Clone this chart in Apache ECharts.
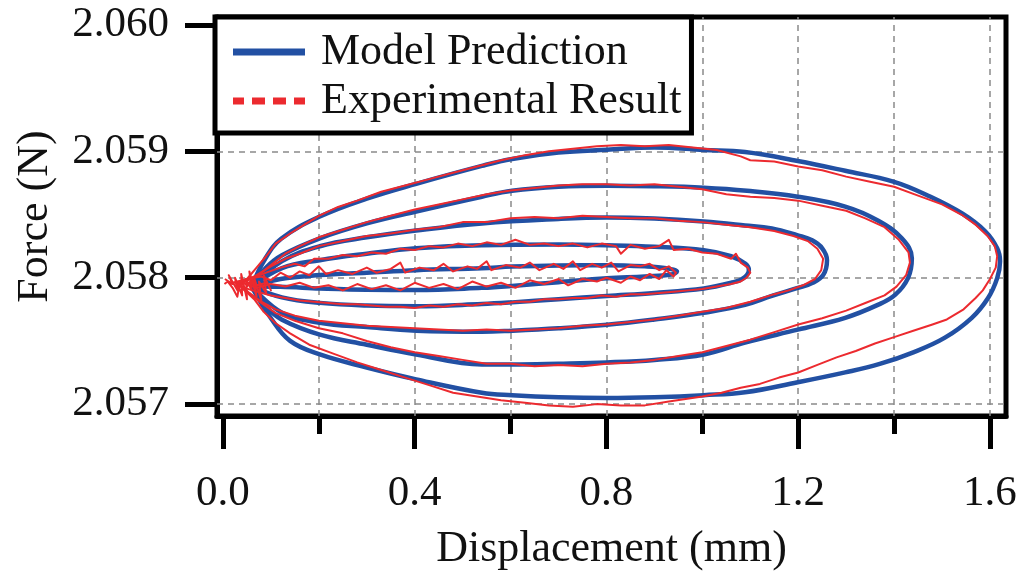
<!DOCTYPE html>
<html>
<head>
<meta charset="utf-8">
<title>Force vs Displacement</title>
<script src="https://cdn.jsdelivr.net/npm/echarts@6/dist/echarts.min.js"></script>
<style>
  html, body { margin: 0; padding: 0; background: #fff; }
  #chart { width: 1024px; height: 576px; }
</style>
</head>
<body>
<div id="chart"></div>
<script>
// Hysteresis loops: displacement (mm) vs force (N)

const xMajorTicks = [0.0, 0.4, 0.8, 1.2, 1.6];
const xMinorTicks = [0.2, 0.6, 1.0, 1.4];
const xGridValues = [0.2, 0.4, 0.6, 0.8, 1.0, 1.2, 1.4, 1.6];
const yTicks = [2.057, 2.058, 2.059, 2.060];
const yGridValues = [2.057, 2.058, 2.059];

// Model prediction, one closed loop per amplitude
const modelLoop1 = [[0.06,2.05793],[0.12,2.05799],[0.202,2.058021],[0.30,2.05804],[0.403,2.05806],[0.54,2.058076],[0.603,2.058088],[0.70,2.058097],[0.801,2.058099],[0.88,2.05809],[0.925,2.058075],[0.947,2.05805],[0.935,2.058025],[0.88,2.05801],[0.801,2.057995],[0.70,2.057965],[0.603,2.057935],[0.54,2.05792],[0.403,2.057903],[0.30,2.057905],[0.202,2.057915],[0.12,2.057928],[0.06,2.05793]];
const modelLoop2 = [[0.06,2.05793],[0.123,2.058076],[0.202,2.058139],[0.30,2.05819],[0.403,2.058233],[0.54,2.058257],[0.70,2.058262],[0.801,2.058257],[0.90,2.058245],[1.003,2.058217],[1.06,2.05817],[1.09,2.05811],[1.097,2.05806],[1.085,2.057995],[1.06,2.05796],[1.003,2.057915],[0.90,2.05788],[0.801,2.057856],[0.70,2.05783],[0.603,2.057805],[0.54,2.057792],[0.403,2.057775],[0.30,2.05778],[0.202,2.057801],[0.123,2.057845],[0.06,2.05793]];
const modelLoop3 = [[0.06,2.05793],[0.123,2.058131],[0.202,2.058249],[0.30,2.05832],[0.403,2.058374],[0.54,2.05843],[0.70,2.058465],[0.801,2.058476],[0.90,2.058468],[1.003,2.058445],[1.089,2.058414],[1.145,2.05839],[1.199,2.058335],[1.229,2.058296],[1.25,2.058233],[1.26,2.058139],[1.252,2.058021],[1.229,2.057958],[1.199,2.057919],[1.145,2.057856],[1.089,2.057785],[1.003,2.057723],[0.90,2.05767],[0.801,2.057628],[0.70,2.0576],[0.603,2.057581],[0.54,2.057573],[0.403,2.057581],[0.30,2.05761],[0.202,2.057644],[0.123,2.057723],[0.06,2.05793]];
const modelLoop4 = [[0.06,2.05793],[0.09,2.05808],[0.123,2.058178],[0.202,2.058312],[0.30,2.05843],[0.403,2.058524],[0.54,2.058641],[0.603,2.058688],[0.70,2.05872],[0.801,2.058728],[0.90,2.058724],[1.003,2.058712],[1.093,2.058688],[1.199,2.058641],[1.298,2.058563],[1.366,2.058453],[1.416,2.058312],[1.437,2.058154],[1.429,2.057997],[1.402,2.057864],[1.366,2.057785],[1.298,2.057683],[1.199,2.057589],[1.089,2.057487],[1.003,2.057393],[0.90,2.05735],[0.801,2.05733],[0.70,2.05732],[0.603,2.057314],[0.54,2.057314],[0.403,2.057393],[0.30,2.05747],[0.202,2.05755],[0.123,2.057668],[0.09,2.05777],[0.06,2.05793]];
const modelLoop5 = [[0.06,2.05793],[0.088,2.05815],[0.122,2.05831],[0.202,2.058484],[0.30,2.058626],[0.403,2.058743],[0.54,2.058885],[0.603,2.05894],[0.70,2.05899],[0.801,2.059013],[0.90,2.05903],[1.003,2.059011],[1.089,2.058995],[1.199,2.058924],[1.298,2.058846],[1.40,2.058759],[1.471,2.058649],[1.542,2.058508],[1.59,2.058367],[1.615,2.058233],[1.621,2.058131],[1.615,2.057997],[1.596,2.05784],[1.562,2.057683],[1.506,2.057526],[1.44,2.05741],[1.37,2.057318],[1.298,2.057251],[1.199,2.057173],[1.089,2.057094],[1.003,2.057071],[0.90,2.057055],[0.801,2.057049],[0.70,2.057055],[0.603,2.057071],[0.54,2.05709],[0.403,2.057196],[0.30,2.05729],[0.202,2.057393],[0.14,2.0575],[0.10,2.05768],[0.06,2.05793]];

// Measured response, same five amplitudes
const testTip = [[0.004,2.05799],[0.02,2.05795],[0.012,2.05802],[0.03,2.0579],[0.025,2.058],[0.04,2.05786],[0.038,2.05803],[0.05,2.05783],[0.048,2.05799],[0.06,2.0579],[0.055,2.05805],[0.07,2.05785],[0.065,2.058],[0.08,2.05782],[0.075,2.05797],[0.09,2.05788],[0.085,2.05802],[0.10,2.0579],[0.092,2.05796],[0.07,2.05794],[0.06,2.05799],[0.045,2.0579],[0.035,2.05796],[0.03,2.05785],[0.02,2.05792],[0.01,2.05797],[0.003,2.05795]];
const testLoop1 = [[0.02,2.05796],[0.05,2.05799],[0.08,2.05801],[0.10,2.05798],[0.12,2.05804],[0.14,2.058],[0.16,2.05805],[0.18,2.05802],[0.20,2.05809],[0.215,2.05803],[0.24,2.05806],[0.27,2.05803],[0.30,2.05808],[0.32,2.05804],[0.35,2.05807],[0.37,2.05812],[0.38,2.05804],[0.41,2.05808],[0.44,2.05806],[0.46,2.05811],[0.48,2.05805],[0.51,2.05809],[0.53,2.05807],[0.55,2.05813],[0.56,2.05806],[0.59,2.0581],[0.62,2.05808],[0.64,2.05812],[0.66,2.05806],[0.69,2.05811],[0.71,2.05807],[0.73,2.05813],[0.745,2.05806],[0.77,2.05811],[0.79,2.05808],[0.81,2.05812],[0.825,2.05805],[0.85,2.0581],[0.87,2.05809],[0.89,2.05811],[0.91,2.05806],[0.93,2.05809],[0.945,2.05804],[0.94,2.05801],[0.925,2.05806],[0.91,2.05799],[0.89,2.05803],[0.87,2.05798],[0.85,2.05801],[0.83,2.05796],[0.80,2.058],[0.78,2.05797],[0.75,2.05799],[0.72,2.05794],[0.70,2.05799],[0.67,2.05795],[0.64,2.05798],[0.61,2.05792],[0.58,2.05796],[0.55,2.05793],[0.52,2.05797],[0.49,2.05791],[0.46,2.05795],[0.43,2.05792],[0.40,2.05796],[0.37,2.0579],[0.34,2.05794],[0.31,2.05791],[0.28,2.05795],[0.25,2.0579],[0.22,2.05794],[0.19,2.05792],[0.16,2.05796],[0.13,2.05793],[0.10,2.05795],[0.07,2.05792],[0.04,2.05796],[0.02,2.05796]];
const testLoop2 = [[0.03,2.05795],[0.06,2.058],[0.09,2.05804],[0.12,2.05808],[0.15,2.05811],[0.17,2.05809],[0.19,2.05815],[0.22,2.05815],[0.25,2.05818],[0.28,2.05817],[0.31,2.0582],[0.34,2.05819],[0.37,2.05823],[0.40,2.05822],[0.43,2.05825],[0.46,2.05824],[0.49,2.05827],[0.52,2.05825],[0.55,2.05828],[0.58,2.05826],[0.61,2.0583],[0.64,2.05826],[0.67,2.05827],[0.70,2.05825],[0.73,2.05827],[0.76,2.05824],[0.79,2.05827],[0.82,2.05825],[0.83,2.05819],[0.85,2.05826],[0.88,2.05823],[0.91,2.05825],[0.93,2.0583],[0.94,2.05822],[0.97,2.05823],[1.00,2.0582],[1.03,2.05819],[1.06,2.05815],[1.07,2.05819],[1.08,2.05812],[1.095,2.05808],[1.10,2.05804],[1.092,2.058],[1.08,2.05797],[1.06,2.05795],[1.03,2.05793],[1.00,2.05791],[0.97,2.0579],[0.94,2.05789],[0.91,2.05788],[0.88,2.05787],[0.85,2.05787],[0.82,2.05785],[0.79,2.05786],[0.76,2.05784],[0.73,2.05784],[0.70,2.05783],[0.67,2.05783],[0.64,2.05781],[0.61,2.05781],[0.58,2.05779],[0.55,2.0578],[0.52,2.05778],[0.49,2.05779],[0.46,2.05777],[0.43,2.05778],[0.40,2.05776],[0.37,2.05777],[0.34,2.05777],[0.31,2.05778],[0.28,2.05779],[0.25,2.05779],[0.22,2.0578],[0.19,2.05781],[0.16,2.05782],[0.13,2.05784],[0.10,2.05786],[0.07,2.05789],[0.045,2.05792],[0.03,2.05795]];
const testLoop3 = [[0.04,2.05796],[0.07,2.05802],[0.10,2.05809],[0.13,2.05815],[0.16,2.05819],[0.20,2.05825],[0.25,2.05829],[0.30,2.05833],[0.35,2.05835],[0.40,2.05838],[0.45,2.0584],[0.50,2.05844],[0.55,2.05844],[0.60,2.05847],[0.65,2.05848],[0.70,2.05847],[0.75,2.05849],[0.80,2.05848],[0.85,2.05847],[0.90,2.05847],[0.95,2.05845],[1.00,2.05844],[1.05,2.05842],[1.10,2.0584],[1.15,2.05837],[1.19,2.05833],[1.22,2.05829],[1.24,2.05823],[1.252,2.05815],[1.248,2.05806],[1.235,2.05799],[1.21,2.05794],[1.18,2.0579],[1.15,2.05787],[1.10,2.05781],[1.05,2.05776],[1.00,2.05773],[0.95,2.0577],[0.90,2.05767],[0.85,2.05765],[0.80,2.05763],[0.75,2.05762],[0.70,2.0576],[0.65,2.05759],[0.60,2.05758],[0.55,2.05759],[0.50,2.05758],[0.45,2.05759],[0.40,2.0576],[0.35,2.05761],[0.30,2.05762],[0.25,2.05764],[0.20,2.05766],[0.15,2.0577],[0.11,2.05775],[0.08,2.05781],[0.055,2.05788],[0.04,2.05793]];
const testLoop4 = [[0.04,2.05796],[0.07,2.05801],[0.10,2.0581],[0.13,2.05819],[0.16,2.05825],[0.20,2.05832],[0.25,2.05838],[0.30,2.05844],[0.35,2.05849],[0.40,2.05854],[0.45,2.05858],[0.50,2.05862],[0.55,2.05866],[0.60,2.05869],[0.65,2.05871],[0.70,2.05873],[0.75,2.05874],[0.80,2.05874],[0.85,2.05873],[0.90,2.05874],[0.95,2.05872],[1.00,2.0587],[1.05,2.05866],[1.10,2.05864],[1.15,2.05863],[1.20,2.05861],[1.25,2.05857],[1.30,2.05853],[1.34,2.05847],[1.38,2.0584],[1.41,2.0583],[1.43,2.0582],[1.433,2.05812],[1.425,2.05802],[1.405,2.05793],[1.38,2.05786],[1.34,2.0578],[1.30,2.05774],[1.25,2.05768],[1.20,2.05763],[1.15,2.05757],[1.10,2.05751],[1.05,2.05746],[1.00,2.05741],[0.95,2.05738],[0.90,2.05735],[0.85,2.05733],[0.80,2.05732],[0.75,2.0573],[0.70,2.05731],[0.65,2.0573],[0.60,2.05732],[0.55,2.05732],[0.50,2.05735],[0.45,2.05738],[0.40,2.05741],[0.35,2.05745],[0.30,2.0575],[0.25,2.05756],[0.20,2.0576],[0.15,2.05766],[0.11,2.05772],[0.08,2.0578],[0.055,2.05787],[0.04,2.05793]];
const testLoop5 = [[0.03,2.05796],[0.05,2.05799],[0.07,2.05808],[0.09,2.05817],[0.11,2.05827],[0.14,2.05835],[0.17,2.05842],[0.20,2.05849],[0.24,2.05856],[0.28,2.05861],[0.33,2.05868],[0.38,2.05873],[0.43,2.05878],[0.48,2.05883],[0.53,2.05888],[0.58,2.05893],[0.63,2.05897],[0.68,2.059],[0.73,2.05902],[0.78,2.05904],[0.83,2.05905],[0.88,2.05904],[0.93,2.05905],[0.98,2.05903],[1.03,2.05901],[1.08,2.05896],[1.10,2.05893],[1.15,2.05892],[1.20,2.05888],[1.25,2.05885],[1.30,2.0588],[1.35,2.05876],[1.40,2.05872],[1.45,2.05865],[1.50,2.05858],[1.54,2.0585],[1.57,2.05842],[1.595,2.05833],[1.61,2.05825],[1.615,2.05817],[1.612,2.05808],[1.60,2.05799],[1.585,2.0579],[1.57,2.05784],[1.545,2.05775],[1.51,2.05767],[1.48,2.05763],[1.44,2.05758],[1.40,2.05753],[1.36,2.05748],[1.32,2.05742],[1.28,2.05737],[1.24,2.05731],[1.20,2.05725],[1.16,2.05721],[1.12,2.05716],[1.08,2.05713],[1.04,2.05709],[1.00,2.05706],[0.93,2.05702],[0.88,2.05699],[0.83,2.05699],[0.78,2.057],[0.73,2.05698],[0.68,2.05699],[0.63,2.05701],[0.58,2.05703],[0.53,2.05706],[0.48,2.05709],[0.43,2.05715],[0.38,2.05721],[0.33,2.05727],[0.28,2.05733],[0.23,2.0574],[0.18,2.05747],[0.14,2.05756],[0.11,2.05764],[0.085,2.05773],[0.065,2.05783],[0.045,2.0579],[0.03,2.05795]];

const modelLoops = [modelLoop1, modelLoop2, modelLoop3, modelLoop4, modelLoop5];
const testLoops = [testTip, testLoop1, testLoop2, testLoop3, testLoop4, testLoop5];

const MODEL_NAME = 'Model Prediction';
const TEST_NAME = 'Experimental Result';
const BLUE = '#2250a3';
const RED = '#ec2a2f';
const INK = '#111111';
const SERIF = '"Liberation Serif", "DejaVu Serif", serif';

// Axis extents: the frame sits a little outside the labelled range
const X_MIN = -0.0125, X_MAX = 1.6334;
const Y_MIN = 2.056906, Y_MAX = 2.060063;

// Legend swatches: a solid bar and a dashed bar
const SOLID_ICON = 'path://M0,0H72V7H0Z';
const DASH_ICON = 'path://M0,0H11V7H0Z M19,0H32V7H19Z M40,0H53V7H40Z M61,0H72V7H61Z';

const gridLines = {
  silent: true,
  symbol: 'none',
  z: 1,
  animation: false,
  label: { show: false },
  lineStyle: { color: '#8a8a8a', type: [6, 5], width: 1.5 },
  data: xGridValues.map(v => ({ xAxis: v })).concat(
    yGridValues.map(v => [{ coord: [X_MIN, v] }, { coord: [X_MAX, v] }])
  )
};

const series = [];
modelLoops.forEach((loop, i) => {
  const s = {
    type: 'line', name: MODEL_NAME, data: loop,
    symbol: 'none', smooth: 0.4, silent: true, z: 2,
    lineStyle: { color: BLUE, width: 4.5, join: 'round' },
    itemStyle: { color: BLUE }
  };
  if (i === modelLoops.length - 1) s.markLine = gridLines;
  series.push(s);
});
testLoops.forEach(loop => {
  series.push({
    type: 'line', name: TEST_NAME, data: loop,
    symbol: 'none', silent: true, z: 3,
    lineStyle: { color: RED, width: 2, join: 'round' },
    itemStyle: { color: RED }
  });
});

const chart = echarts.init(document.getElementById('chart'), null, { renderer: 'canvas' });
chart.setOption({
  animation: false,
  backgroundColor: '#ffffff',
  textStyle: { fontFamily: SERIF, color: INK },
  grid: {
    left: 217, right: 18, top: 17, bottom: 157,
    show: true, borderColor: '#000', borderWidth: 5, backgroundColor: 'transparent'
  },
  legend: {
    orient: 'vertical',
    left: 215, top: 17,
    padding: [13, 10, 10, 18],
    itemGap: 5,
    itemWidth: 72, itemHeight: 7,
    borderColor: '#000', borderWidth: 5, backgroundColor: '#fff',
    textStyle: { fontFamily: SERIF, fontSize: 44, color: INK, padding: [0, 0, 0, 11] },
    data: [
      { name: MODEL_NAME, icon: SOLID_ICON, itemStyle: { color: BLUE } },
      { name: TEST_NAME, icon: DASH_ICON, itemStyle: { color: RED } }
    ],
    z: 10
  },
  xAxis: [
    {
      type: 'value', min: X_MIN, max: X_MAX, position: 'bottom',
      axisLine: { show: true, onZero: false, lineStyle: { color: '#000', width: 5 } },
      axisTick: { show: true, customValues: xMinorTicks, length: 18, lineStyle: { color: '#000', width: 5 } },
      axisLabel: { show: false },
      splitLine: { show: false }
    },
    {
      type: 'value', min: X_MIN, max: X_MAX, position: 'bottom', offset: 0,
      axisLine: { show: false, onZero: false },
      axisTick: { show: true, customValues: xMajorTicks, length: 33, lineStyle: { color: '#000', width: 5 } },
      axisLabel: {
        show: true, customValues: xMajorTicks, margin: 56,
        fontFamily: SERIF, fontSize: 43, color: INK,
        formatter: v => Number(v).toFixed(1)
      },
      splitLine: { show: false },
      name: 'Displacement (mm)', nameLocation: 'middle', nameGap: 111,
      nameTextStyle: { fontFamily: SERIF, fontSize: 44, color: INK }
    }
  ],
  yAxis: {
    type: 'value', min: Y_MIN, max: Y_MAX,
    axisLine: { show: true, onZero: false, lineStyle: { color: '#000', width: 5 } },
    axisTick: { show: true, customValues: yTicks, length: 32, lineStyle: { color: '#000', width: 5 } },
    axisLabel: {
      show: true, customValues: yTicks, margin: 48,
      fontFamily: SERIF, fontSize: 43, color: INK,
      formatter: v => Number(v).toFixed(3)
    },
    splitLine: { show: false },
    name: 'Force (N)', nameLocation: 'middle', nameGap: 160,
    nameTextStyle: { fontFamily: SERIF, fontSize: 44, color: INK }
  },
  series: series
});
</script>
</body>
</html>
